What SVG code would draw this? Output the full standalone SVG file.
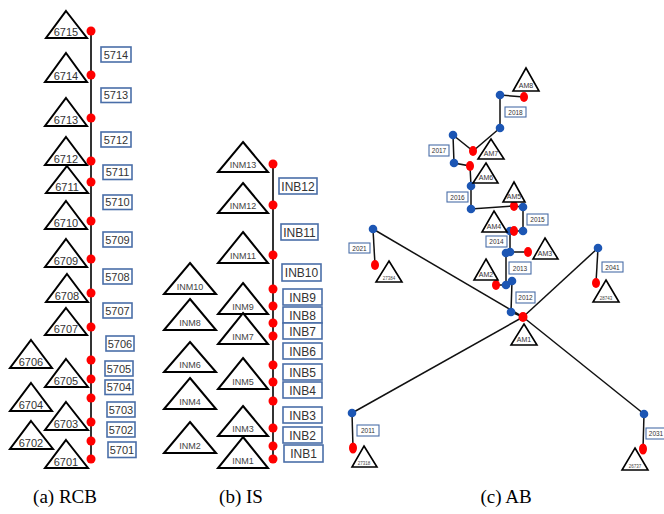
<svg xmlns="http://www.w3.org/2000/svg" width="664" height="514" viewBox="0 0 664 514">
<style>
.tri{fill:#fff;stroke:#000;stroke-width:2;stroke-linejoin:miter}
.tri2{fill:#fff;stroke:#000;stroke-width:1.6}
.tl{font-family:"Liberation Sans",Arial,sans-serif;font-size:11px;fill:#333;text-anchor:middle}
.tlb{font-family:"Liberation Sans",Arial,sans-serif;font-size:9px;fill:#444;text-anchor:middle}
.tlc{font-family:"Liberation Sans",Arial,sans-serif;font-size:7px;fill:#333;text-anchor:middle}
.tls{font-family:"Liberation Sans",Arial,sans-serif;font-size:4.5px;fill:#444;text-anchor:middle}
.box{fill:#fff;stroke:#4a6ea8;stroke-width:1.6}
.boxc{fill:#fff;stroke:#4a6ea8;stroke-width:1.1}
.bl{font-family:"Liberation Sans",Arial,sans-serif;font-size:11px;fill:#333;text-anchor:middle}
.blb{font-family:"Liberation Sans",Arial,sans-serif;font-size:12px;fill:#333;text-anchor:middle}
.blc{font-family:"Liberation Sans",Arial,sans-serif;font-size:6.5px;fill:#333;text-anchor:middle}
.red{fill:#ff0000}
.blue{fill:#1c56b4}
.ln{stroke:#333;stroke-width:2;fill:none}
.lc{stroke:#111;stroke-width:1.5;fill:none}
.cap{font-family:"Liberation Serif","Times New Roman",serif;font-size:19px;fill:#000;text-anchor:middle}
</style>

<!-- Panel (a) RCB -->
<g id="connectors-a">
<line class="ln" x1="91" y1="31" x2="91" y2="460"/>
</g>
<g id="dots-a" class="red">
<circle cx="91" cy="31" r="4.5"/><circle cx="91" cy="75" r="4.5"/><circle cx="91" cy="118" r="4.5"/><circle cx="91" cy="161" r="4.5"/><circle cx="91" cy="182" r="4.5"/><circle cx="91" cy="221" r="4.5"/><circle cx="91" cy="259" r="4.5"/><circle cx="91" cy="293" r="4.5"/><circle cx="91" cy="327" r="4.5"/><circle cx="91" cy="360" r="4.5"/><circle cx="91" cy="379" r="4.5"/><circle cx="91" cy="398" r="4.5"/><circle cx="91" cy="422" r="4.5"/><circle cx="91" cy="441" r="4.5"/><circle cx="91" cy="459" r="4.5"/>
</g>
<g id="n6715"><polygon class="tri" points="66,11 87,38 46,38"/><text class="tl" x="66" y="35.5">6715</text></g>
<g id="n6714"><polygon class="tri" points="66,53 87,82 45,82"/><text class="tl" x="66" y="79.5">6714</text></g>
<g id="n6713"><polygon class="tri" points="66,98 87,126 45,126"/><text class="tl" x="66" y="123.5">6713</text></g>
<g id="n6712"><polygon class="tri" points="66,137 87,165 45,165"/><text class="tl" x="66" y="162.5">6712</text></g>
<g id="n6711"><polygon class="tri" points="67,166 88,193 46,193"/><text class="tl" x="67" y="190.5">6711</text></g>
<g id="n6710"><polygon class="tri" points="66,201 87,229 45,229"/><text class="tl" x="66" y="226.5">6710</text></g>
<g id="n6709"><polygon class="tri" points="66,239 87,267 45,267"/><text class="tl" x="66" y="264.5">6709</text></g>
<g id="n6708"><polygon class="tri" points="67,274 88,302 46,302"/><text class="tl" x="67" y="299.5">6708</text></g>
<g id="n6707"><polygon class="tri" points="66,308 87,335 45,335"/><text class="tl" x="66" y="332.5">6707</text></g>
<g id="n6706"><polygon class="tri" points="31,340 52,368 10,368"/><text class="tl" x="31" y="365.5">6706</text></g>
<g id="n6705"><polygon class="tri" points="66,359 88,387 45,387"/><text class="tl" x="66" y="384.5">6705</text></g>
<g id="n6704"><polygon class="tri" points="31,383 52,411 10,411"/><text class="tl" x="31" y="408.5">6704</text></g>
<g id="n6703"><polygon class="tri" points="66,402 88,430 45,430"/><text class="tl" x="66" y="427.5">6703</text></g>
<g id="n6702"><polygon class="tri" points="31,421 53,449 10,449"/><text class="tl" x="31" y="446.5">6702</text></g>
<g id="n6701"><polygon class="tri" points="66,440 88,468 45,468"/><text class="tl" x="66" y="465.5">6701</text></g>

<g id="b5714"><rect class="box" x="101" y="47" width="30" height="15"/><text class="bl" x="116" y="58.5">5714</text></g>
<g id="b5713"><rect class="box" x="101" y="88" width="30" height="14.5"/><text class="bl" x="116" y="99">5713</text></g>
<g id="b5712"><rect class="box" x="101" y="132" width="30" height="15"/><text class="bl" x="116" y="143.5">5712</text></g>
<g id="b5711"><rect class="box" x="103" y="165" width="29" height="14.5"/><text class="bl" x="117.5" y="176">5711</text></g>
<g id="b5710"><rect class="box" x="103" y="195" width="29" height="14.5"/><text class="bl" x="117.5" y="206">5710</text></g>
<g id="b5709"><rect class="box" x="103" y="232" width="29" height="15"/><text class="bl" x="117.5" y="243.5">5709</text></g>
<g id="b5708"><rect class="box" x="103" y="269" width="29" height="15"/><text class="bl" x="117.5" y="280.5">5708</text></g>
<g id="b5707"><rect class="box" x="103" y="303" width="29" height="15"/><text class="bl" x="117.5" y="314.5">5707</text></g>
<g id="b5706"><rect class="box" x="106" y="336" width="28" height="15"/><text class="bl" x="120" y="347.5">5706</text></g>
<g id="b5705"><rect class="box" x="105" y="361" width="28" height="15"/><text class="bl" x="119" y="372.5">5705</text></g>
<g id="b5704"><rect class="box" x="105" y="380" width="28" height="14.5"/><text class="bl" x="119" y="391">5704</text></g>
<g id="b5703"><rect class="box" x="107" y="402" width="28" height="15"/><text class="bl" x="121" y="413.5">5703</text></g>
<g id="b5702"><rect class="box" x="107" y="422" width="28" height="15"/><text class="bl" x="121" y="433.5">5702</text></g>
<g id="b5701"><rect class="box" x="108" y="442" width="28" height="15.5"/><text class="bl" x="122" y="454">5701</text></g>

<!-- Panel (b) IS -->
<g id="connectors-b">
<line class="ln" x1="273" y1="164" x2="273" y2="459"/>
</g>
<g id="dots-b" class="red">
<circle cx="273" cy="164" r="4.5"/><circle cx="273" cy="205" r="4.5"/><circle cx="273" cy="255" r="4.5"/><circle cx="273" cy="289" r="4.5"/><circle cx="273" cy="306" r="4.5"/><circle cx="273" cy="323" r="4.5"/><circle cx="273" cy="336" r="4.5"/><circle cx="273" cy="365" r="4.5"/><circle cx="273" cy="382" r="4.5"/><circle cx="273" cy="401" r="4.5"/><circle cx="273" cy="428" r="4.5"/><circle cx="273" cy="446" r="4.5"/><circle cx="273" cy="459" r="4.5"/>
</g>
<g id="INM13"><polygon class="tri" points="243,142 268,172 218,172"/><text class="tlb" x="243" y="168">INM13</text></g>
<g id="INM12"><polygon class="tri" points="243,183 268,213 218,213"/><text class="tlb" x="243" y="209">INM12</text></g>
<g id="INM11"><polygon class="tri" points="243,232 268,263 218,263"/><text class="tlb" x="243" y="259">INM11</text></g>
<g id="INM10"><polygon class="tri" points="190,263 216,294 164,294"/><text class="tlb" x="190" y="290">INM10</text></g>
<g id="INM9"><polygon class="tri" points="243,283 268,314 218,314"/><text class="tlb" x="243" y="310">INM9</text></g>
<g id="INM8"><polygon class="tri" points="190,299 216,330 164,330"/><text class="tlb" x="190" y="326">INM8</text></g>
<g id="INM7"><polygon class="tri" points="243,313 268,344 218,344"/><text class="tlb" x="243" y="340">INM7</text></g>
<g id="INM6"><polygon class="tri" points="190,342 216,372 164,372"/><text class="tlb" x="190" y="368">INM6</text></g>
<g id="INM5"><polygon class="tri" points="243,358 268,389 218,389"/><text class="tlb" x="243" y="385">INM5</text></g>
<g id="INM4"><polygon class="tri" points="190,378 216,409 164,409"/><text class="tlb" x="190" y="405">INM4</text></g>
<g id="INM3"><polygon class="tri" points="243,406 268,436 218,436"/><text class="tlb" x="243" y="432">INM3</text></g>
<g id="INM2"><polygon class="tri" points="190,422 216,453 164,453"/><text class="tlb" x="190" y="449">INM2</text></g>
<g id="INM1"><polygon class="tri" points="243,437 268,468 218,468"/><text class="tlb" x="243" y="464">INM1</text></g>

<g id="INB12"><rect class="box" x="279" y="178" width="38" height="16"/><text class="blb" x="298" y="190.5">INB12</text></g>
<g id="INB11"><rect class="box" x="281" y="224" width="37" height="16"/><text class="blb" x="299.5" y="236.5">INB11</text></g>
<g id="INB10"><rect class="box" x="282" y="264" width="39" height="17"/><text class="blb" x="301.5" y="277">INB10</text></g>
<g id="INB9"><rect class="box" x="283" y="289" width="39" height="16"/><text class="blb" x="302.5" y="301.5">INB9</text></g>
<g id="INB8"><rect class="box" x="283" y="307" width="39" height="16"/><text class="blb" x="302.5" y="319.5">INB8</text></g>
<g id="INB7"><rect class="box" x="283" y="323" width="39" height="16"/><text class="blb" x="302.5" y="335.5">INB7</text></g>
<g id="INB6"><rect class="box" x="283" y="343" width="39" height="16"/><text class="blb" x="302.5" y="355.5">INB6</text></g>
<g id="INB5"><rect class="box" x="283" y="364" width="39" height="16"/><text class="blb" x="302.5" y="376.5">INB5</text></g>
<g id="INB4"><rect class="box" x="283" y="382" width="39" height="16"/><text class="blb" x="302.5" y="394.5">INB4</text></g>
<g id="INB3"><rect class="box" x="283" y="407" width="39" height="16"/><text class="blb" x="302.5" y="419.5">INB3</text></g>
<g id="INB2"><rect class="box" x="283" y="427" width="39" height="16"/><text class="blb" x="302.5" y="439.5">INB2</text></g>
<g id="INB1"><rect class="box" x="284" y="445" width="39" height="17"/><text class="blb" x="303.5" y="458">INB1</text></g>

<!-- Panel (c) AB -->
<g id="connectors-c" class="lc">
<polyline points="524,97 500,95 500,128 473,151 453,135 454,163 470,166 471,186 471,209 513,206 523,207 523,231 510,231 510,252 528,252"/>
<polyline points="506,253 506,285 496,285"/>
<polyline points="512,281 511,312 523,317"/>
<line x1="373" y1="229" x2="523" y2="317"/>
<line x1="373" y1="229" x2="375" y2="265"/>
<line x1="598" y1="248" x2="523" y2="317"/>
<line x1="598" y1="248" x2="596" y2="283"/>
<line x1="523" y1="317" x2="352" y2="413"/>
<line x1="352" y1="413" x2="353" y2="448"/>
<line x1="523" y1="317" x2="644" y2="414"/>
<line x1="644" y1="414" x2="643" y2="449"/>
</g>
<g id="dots-c-blue" class="blue">
<circle cx="500" cy="95" r="4.3"/><circle cx="500" cy="128" r="4.3"/><circle cx="453" cy="135" r="4.3"/><circle cx="454" cy="163" r="4.3"/><circle cx="471" cy="186" r="4.3"/><circle cx="471" cy="209" r="4.3"/><circle cx="523" cy="207" r="4.3"/><circle cx="523" cy="231" r="4.3"/><circle cx="510" cy="231" r="4.3"/><circle cx="510" cy="252" r="4.3"/><circle cx="506" cy="253" r="4.3"/><circle cx="506" cy="285" r="4.3"/><circle cx="512" cy="281" r="4.3"/><circle cx="511" cy="312" r="4.3"/><circle cx="373" cy="229" r="4.3"/><circle cx="598" cy="248" r="4.3"/><circle cx="352" cy="413" r="4.3"/><circle cx="644" cy="414" r="4.3"/>
</g>
<g id="dots-c-red" class="red">
<ellipse cx="524" cy="97" rx="4" ry="5"/><ellipse cx="473" cy="151" rx="4" ry="5"/><ellipse cx="470" cy="166" rx="4" ry="5"/><ellipse cx="514" cy="206" rx="4" ry="5"/><ellipse cx="514" cy="231" rx="4" ry="5"/><ellipse cx="528" cy="252" rx="4" ry="5"/><ellipse cx="496" cy="285" rx="4" ry="5"/><ellipse cx="523" cy="317" rx="4.5" ry="5"/><ellipse cx="375" cy="265" rx="4" ry="5"/><ellipse cx="596" cy="283" rx="4" ry="5"/><ellipse cx="353" cy="448" rx="4" ry="5.5"/><ellipse cx="643" cy="449" rx="4" ry="5.5"/>
</g>
<g id="AM8"><polygon class="tri2" points="526,68 539,91 513,91"/><text class="tlc" x="526" y="88">AM8</text></g>
<g id="AM7"><polygon class="tri2" points="491,139 504,159 478,159"/><text class="tlc" x="491" y="156">AM7</text></g>
<g id="AM6"><polygon class="tri2" points="486,163 498,183 473,183"/><text class="tlc" x="486" y="180">AM6</text></g>
<g id="AM5"><polygon class="tri2" points="514,182 525,202 503,202"/><text class="tlc" x="514" y="199">AM5</text></g>
<g id="AM4"><polygon class="tri2" points="494,211 507,232 482,232"/><text class="tlc" x="494" y="229">AM4</text></g>
<g id="AM3"><polygon class="tri2" points="545,238 558,259 533,259"/><text class="tlc" x="545" y="256">AM3</text></g>
<g id="AM2"><polygon class="tri2" points="486,259 498,280 474,280"/><text class="tlc" x="486" y="277">AM2</text></g>
<g id="AM1"><polygon class="tri2" points="524,324 537,345 511,345"/><text class="tlc" x="524" y="342">AM1</text></g>
<g id="T27384"><polygon class="tri2" points="389,261 402,282 376,282"/><text class="tls" x="389" y="279.5">27384</text></g>
<g id="T28743"><polygon class="tri2" points="606,280 619,302 593,302"/><text class="tls" x="606" y="299.5">28743</text></g>
<g id="T27318"><polygon class="tri2" points="364,446 377,467 352,467"/><text class="tls" x="364" y="464.5">27318</text></g>
<g id="T26737"><polygon class="tri2" points="635,448 648,470 622,470"/><text class="tls" x="635" y="467.5">26737</text></g>

<g id="b2018"><rect class="boxc" x="505" y="107" width="21" height="10"/><text class="blc" x="515.5" y="114.5">2018</text></g>
<g id="b2017"><rect class="boxc" x="429" y="145" width="20" height="11"/><text class="blc" x="439" y="153">2017</text></g>
<g id="b2016"><rect class="boxc" x="447" y="192" width="21" height="10"/><text class="blc" x="457.5" y="199.5">2016</text></g>
<g id="b2015"><rect class="boxc" x="527" y="214" width="21" height="11"/><text class="blc" x="537.5" y="222">2015</text></g>
<g id="b2014"><rect class="boxc" x="486" y="236" width="21" height="11"/><text class="blc" x="496.5" y="244">2014</text></g>
<g id="b2013"><rect class="boxc" x="509" y="262" width="22" height="12"/><text class="blc" x="520" y="270.5">2013</text></g>
<g id="b2012"><rect class="boxc" x="516" y="292" width="19" height="11"/><text class="blc" x="525.5" y="300">2012</text></g>
<g id="b2021"><rect class="boxc" x="349" y="243" width="21" height="10"/><text class="blc" x="359.5" y="250.5">2021</text></g>
<g id="b2041"><rect class="boxc" x="602" y="262" width="21" height="10"/><text class="blc" x="612.5" y="269.5">2041</text></g>
<g id="b2011"><rect class="boxc" x="357" y="425" width="22" height="11"/><text class="blc" x="368" y="433">2011</text></g>
<g id="b2031"><rect class="boxc" x="646" y="428" width="20" height="11"/><text class="blc" x="656" y="436">2031</text></g>

<g id="captions">
<text class="cap" x="65" y="503">(a) RCB</text>
<text class="cap" x="241" y="503">(b) IS</text>
<text class="cap" x="506" y="503">(c) AB</text>
</g>
</svg>
